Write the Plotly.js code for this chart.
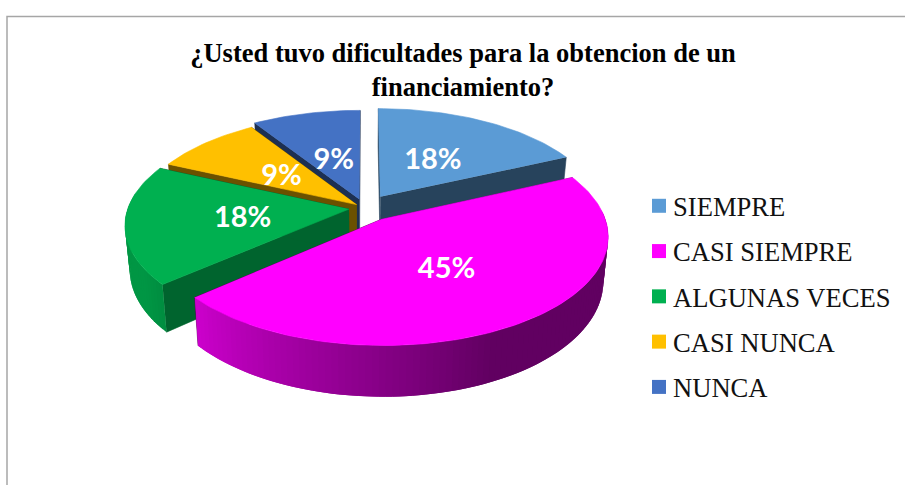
<!DOCTYPE html>
<html>
<head>
<meta charset="utf-8">
<script src="https://cdn.plot.ly/plotly-3.0.1.min.js"></script>
<style>html,body{margin:0;padding:0;background:#fff}#c{width:905px;height:485px}</style>
</head>
<body>
<div id="c"></div>
<script>
// --- Data ---
const categories = ['SIEMPRE', 'CASI SIEMPRE', 'ALGUNAS VECES', 'CASI NUNCA', 'NUNCA'];
const values = [2, 5, 2, 1, 1];
const percentLabels = ['18%', '45%', '18%', '9%', '9%'];
const colors = ['#5B9BD5', '#FF00FF', '#00B050', '#FFC000', '#4472C4'];
const titleLines = ['¿Usted tuvo dificultades para la obtencion de un', 'financiamiento?'];

// --- Style of the 3-D pie ---
const pull = [0.13, 0.13, 0.073, 0.05, 0.09];
const labelRadius = [0.48, 0.5, 0.48, 0.475, 0.45];
const edgeShade = [0.43, 0.38, 0.57, 0.42, 0.42];
const drawOrder = [4, 0, 3, 2, 1];
const view = {cx: 365, cy: 208, a: 221, b: 104, p: 0.145, depth: 43, taper: 0.02, labelDrop: 3.5};

const total = values.reduce((s, v) => s + v, 0);
const rad = d => d * Math.PI / 180;
let acc = 0;
const spans = values.map(v => { const s = acc; acc += v / total * 360; return [s, acc]; });

function project(i, deg, r, z) {
  const mid = rad((spans[i][0] + spans[i][1]) / 2);
  const X = pull[i] * Math.sin(mid) + r * Math.sin(rad(deg));
  const Y = pull[i] * Math.cos(mid) + r * Math.cos(rad(deg));
  const w = 1 + view.p * Y;
  return [view.cx + view.a * X / w * (1 - view.taper * z),
          view.cy - view.b * Y / w + view.depth * z / w];
}
function scaleColor(hex, f) {
  const n = parseInt(hex.slice(1), 16);
  const c = [n >> 16 & 255, n >> 8 & 255, n & 255].map(v => Math.round(v * f));
  return 'rgb(' + c.join(',') + ')';
}
function wallShade(i, deg) {
  return Math.max(edgeShade[i], Math.min(0.85, 0.38 + (deg - 155) / 74 * 0.42));
}
function poly(pts, color, lineWidth) {
  return {
    type: 'scatter', mode: 'lines', fill: 'toself', fillcolor: color,
    x: pts.map(p => p[0]), y: pts.map(p => p[1]),
    line: {color: color, width: lineWidth}, showlegend: false, hoverinfo: 'skip'
  };
}

const traces = [];
drawOrder.forEach(i => {
  const [s, e] = spans[i];
  // radial faces
  [s, e].forEach(d => {
    traces.push(poly([project(i, d, 0, 0), project(i, d, 1, 0), project(i, d, 1, 1), project(i, d, 0, 1)],
      scaleColor(colors[i], edgeShade[i]), 0.6));
  });
  // outer wall, only where it faces the viewer, in overlapping narrow bands to give its shading
  const step = 1.5;
  for (let d = s; d < e; d += step) {
    if (Math.cos(rad(d)) > 0.1) continue;
    const d2 = Math.min(e, d + step);
    const d3 = Math.min(e, d + 2 * step);
    const band = [];
    for (let q = d; q <= d3 + 1e-6; q += 0.5) band.push(project(i, q, 1, 0));
    for (let q = d3; q >= d - 1e-6; q -= 0.5) band.push(project(i, q, 1, 1));
    traces.push(poly(band, scaleColor(colors[i], wallShade(i, (d + d2) / 2)), 0));
  }
  // top face
  const top = [project(i, s, 0, 0)];
  for (let d = s; d < e; d += 1.5) top.push(project(i, d, 1, 0));
  top.push(project(i, e, 1, 0));
  traces.push(poly(top, colors[i], 0.6));
});

// percent labels
const labelPts = values.map((v, i) => project(i, (spans[i][0] + spans[i][1]) / 2, labelRadius[i], 0));
traces.push({
  type: 'scatter', mode: 'text',
  x: labelPts.map(p => p[0]), y: labelPts.map(p => p[1] + view.labelDrop),
  text: percentLabels, textposition: 'middle center',
  textfont: {family: 'Lato, sans-serif', size: 29, color: '#fff', weight: 700},
  showlegend: false, hoverinfo: 'skip'
});

// legend entries
categories.forEach((c, i) => traces.push({
  type: 'scatter', mode: 'markers', name: c, legendgroup: c,
  x: [null], y: [null],
  marker: {symbol: 'square', size: 14, color: colors[i]}
}));

const layout = {
  width: 905, height: 485,
  margin: {l: 0, r: 0, t: 0, b: 0},
  paper_bgcolor: '#fff', plot_bgcolor: '#fff',
  title: {
    text: titleLines.join('<br>'),
    font: {family: '"Liberation Serif", serif', size: 26.5, color: '#000', weight: 700},
    x: 463 / 905, xanchor: 'center', y: 1 - 62 / 485, yanchor: 'top', automargin: false
  },
  xaxis: {range: [0, 905], visible: false, fixedrange: true},
  yaxis: {range: [485, 0], visible: false, fixedrange: true},
  showlegend: true,
  legend: {
    x: 633 / 905, xanchor: 'left', y: 1 - 182 / 485, yanchor: 'top',
    traceorder: 'grouped', tracegroupgap: 7.7,
    font: {family: '"Liberation Serif", serif', size: 26.6, color: '#111'},
    bgcolor: 'rgba(0,0,0,0)', itemclick: false, itemdoubleclick: false
  },
  shapes: [{
    type: 'path', path: 'M 7 485 L 7 16.5 L 905 16.5',
    xref: 'x', yref: 'y', line: {color: '#a6a6a6', width: 1.5}
  }]
};

Plotly.newPlot('c', traces, layout, {displayModeBar: false}).then(() => {
  // sit the legend swatches closer to their labels
  document.querySelectorAll('#c .legend .legendpoints').forEach(g => g.setAttribute('transform', 'translate(6,0)'));
});
</script>
</body>
</html>
